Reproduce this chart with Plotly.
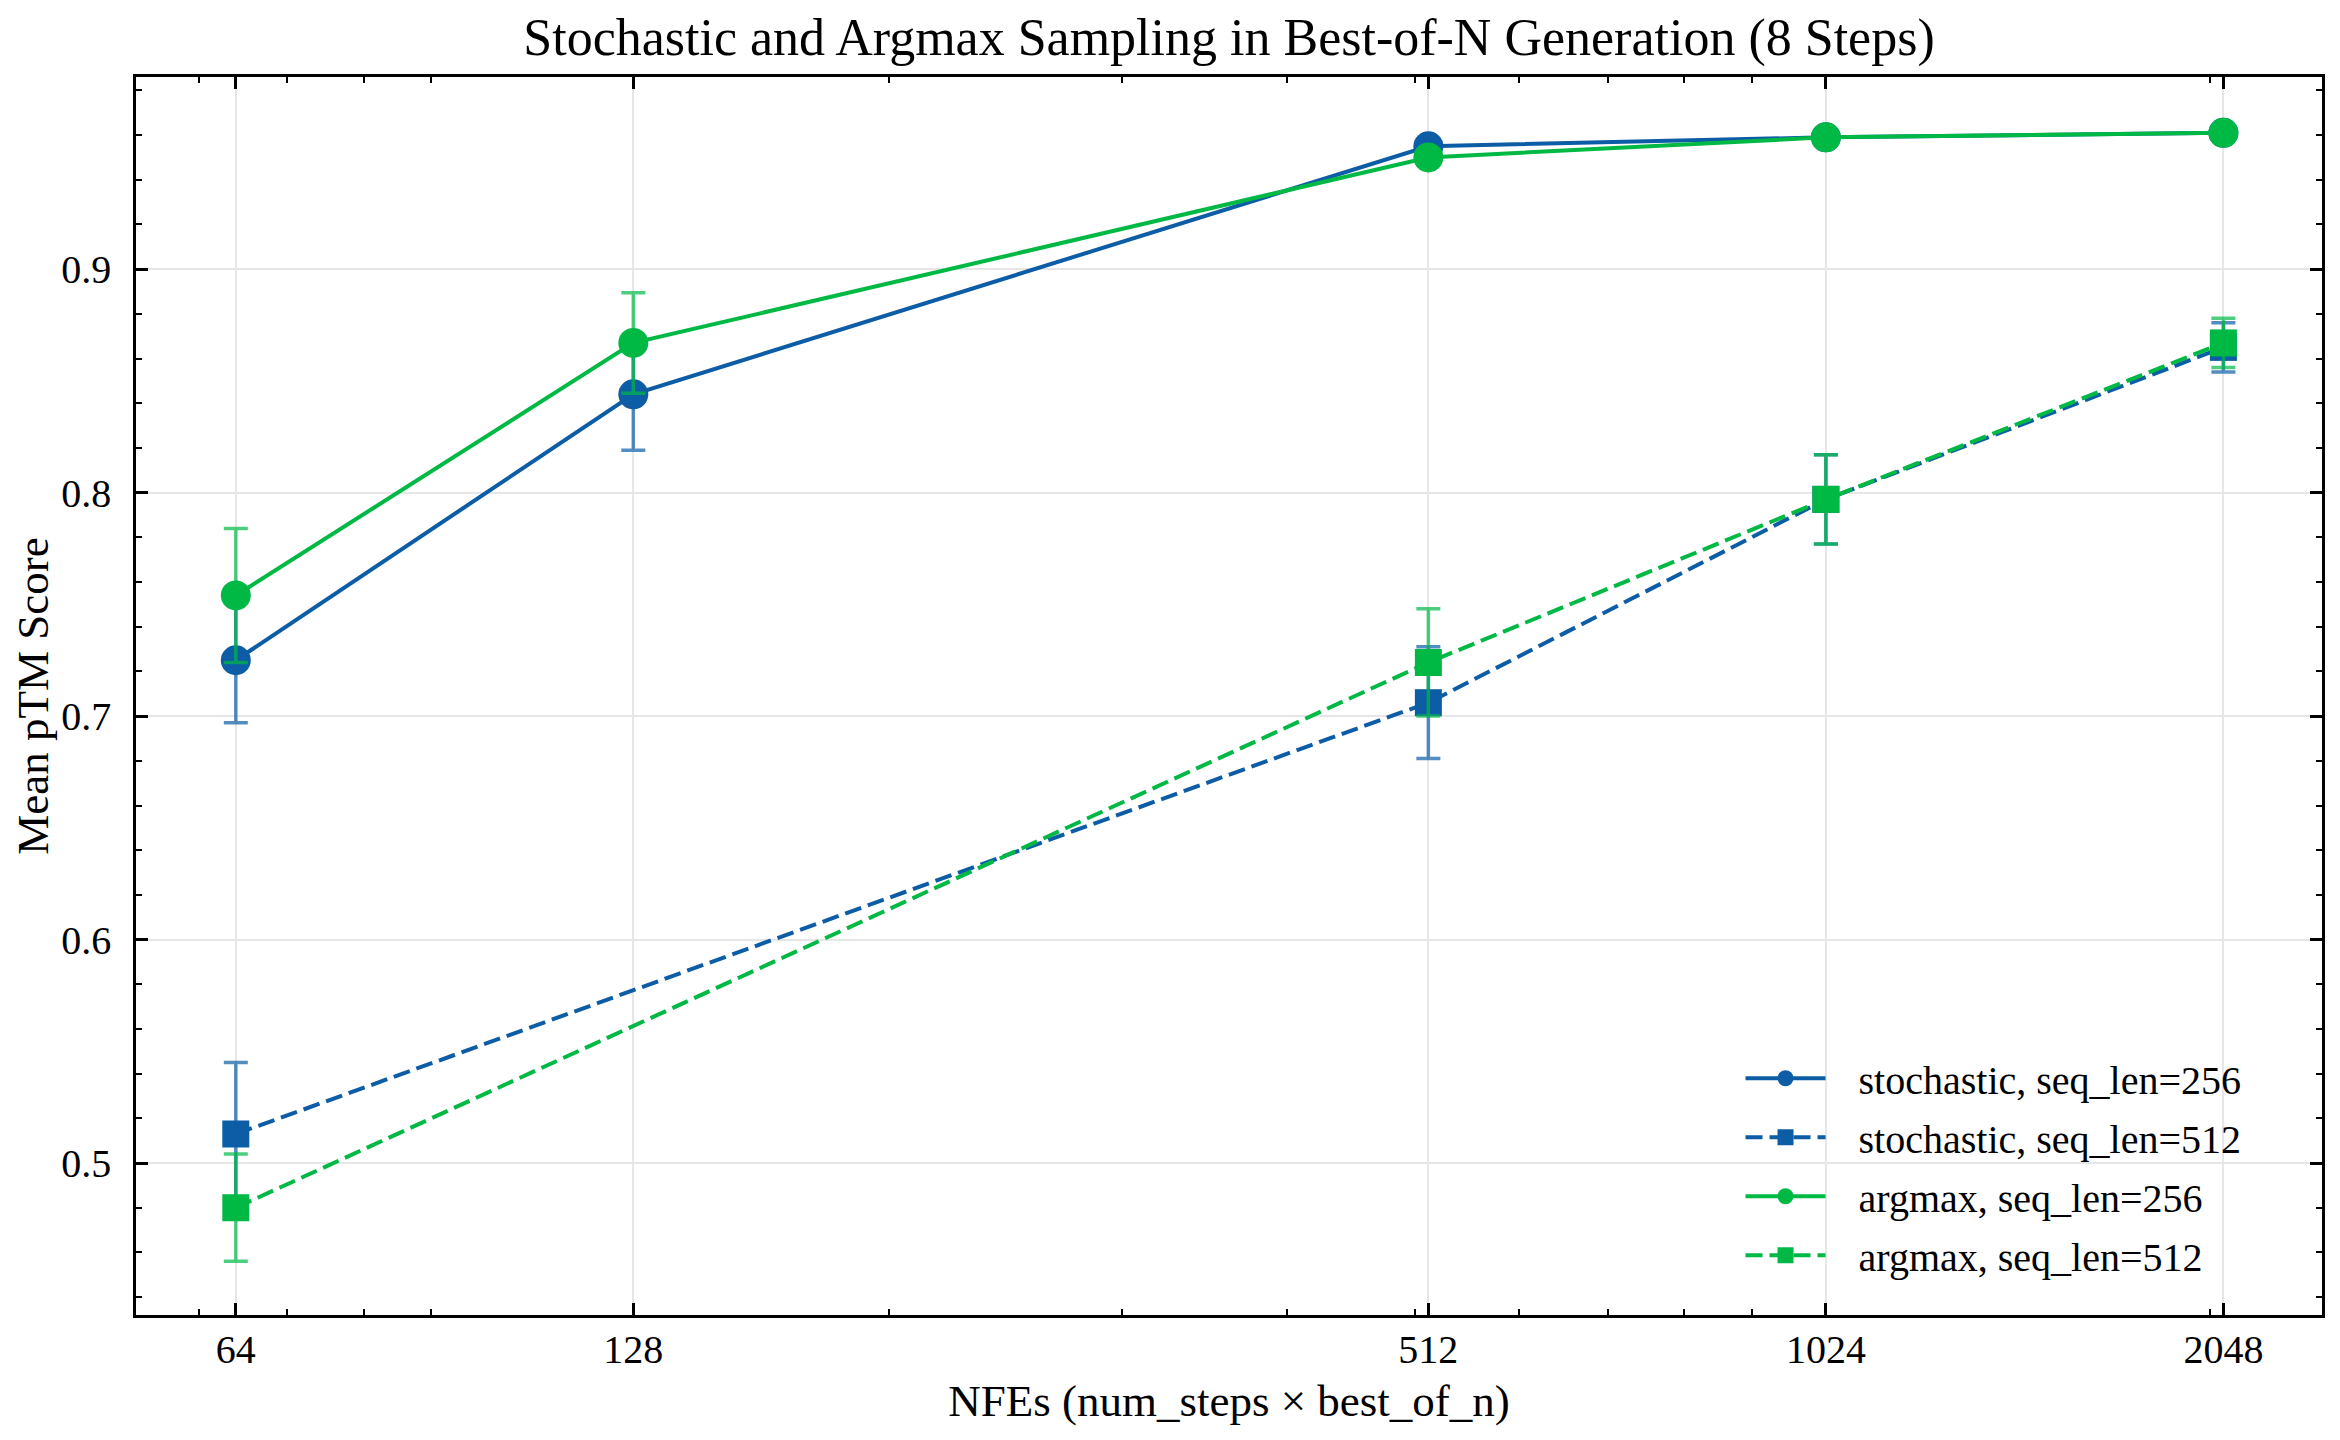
import plotly.graph_objects as go

# NFEs on x (log scale); seq_len=512 runs have no 128 point
nfe_256 = [64, 128, 512, 1024, 2048]
nfe_512 = [64, 512, 1024, 2048]

stoch_256 = [0.725, 0.844, 0.955, 0.959, 0.961]
stoch_256_err = [0.028, 0.025, 0.003, 0.002, 0.002]
stoch_512 = [0.513, 0.706, 0.797, 0.865]
stoch_512_err = [0.032, 0.025, 0.020, 0.011]

argmax_256 = [0.754, 0.867, 0.950, 0.959, 0.961]
argmax_256_err = [0.030, 0.0225, 0.003, 0.002, 0.002]
argmax_512 = [0.480, 0.724, 0.797, 0.867]
argmax_512_err = [0.024, 0.024, 0.020, 0.011]

tick_vals = [64, 128, 512, 1024, 2048]
tick_text = ["64", "128", "512", "1024", "2048"]
minor_vals = [60, 70, 80, 90, 200, 300, 400, 500, 600, 700, 800, 900, 2000]

BLUE = "#0C5DA5"
GREEN = "#00B945"
FONT = "Liberation Serif"

series = [
    ("stochastic, seq_len=256", nfe_256, stoch_256, stoch_256_err, BLUE, "solid", "circle", "rgba(12,93,165,0.7)"),
    ("stochastic, seq_len=512", nfe_512, stoch_512, stoch_512_err, BLUE, "17px,7px", "square", "rgba(12,93,165,0.7)"),
    ("argmax, seq_len=256", nfe_256, argmax_256, argmax_256_err, GREEN, "solid", "circle", "rgba(0,185,69,0.7)"),
    ("argmax, seq_len=512", nfe_512, argmax_512, argmax_512_err, GREEN, "17px,7px", "square", "rgba(0,185,69,0.7)"),
]

fig = go.Figure()
for i, (name, xs, ys, errs, color, dash, symbol, ecolor) in enumerate(series):
    fig.add_trace(go.Scatter(
        x=xs, y=ys, name="\u2002\u2009" + name, mode="lines+markers",
        legendgroup=f"g{i}",
        line=dict(color=color, width=4, dash=dash),
        marker=dict(color=color, size=30 if symbol == "circle" else 27, symbol=symbol),
        error_y=dict(type="data", array=errs, visible=True, color=ecolor, thickness=3.5, width=12),
    ))

axis_common = dict(
    showline=True, linecolor="black", linewidth=2.5, mirror="allticks",
    ticks="inside", ticklen=12, tickwidth=2.5, tickcolor="black",
    showgrid=True, gridcolor="#e6e6e6", gridwidth=2, zeroline=False,
    tickfont=dict(family=FONT, size=40, color="black"),
    automargin=False,
)

fig.update_xaxes(
    type="log", range=[1.7306, 3.386],
    tickmode="array", tickvals=tick_vals, ticktext=tick_text,
    minor=dict(tickmode="array", tickvals=minor_vals, ticks="inside", ticklen=6,
               tickwidth=2, tickcolor="black", showgrid=False),
    ticklabelstandoff=-3,
    title=dict(text="NFEs (num_steps × best_of_n)", font=dict(family=FONT, size=45, color="black"), standoff=14),
    **axis_common,
)
fig.update_yaxes(
    range=[0.432, 0.986], tick0=0, dtick=0.1, tickformat=".1f",
    minor=dict(dtick=0.02, ticks="inside", ticklen=6, tickwidth=2,
               tickcolor="black", showgrid=False),
    ticklabelstandoff=14,
    title=dict(text="Mean pTM Score", font=dict(family=FONT, size=45, color="black"), standoff=18),
    **axis_common,
)

# the page body adds an 8px offset, so the figure is 8px smaller than the window
fig.update_layout(
    width=2332, height=1432,
    margin=dict(l=128, r=18, t=69, b=125),
    plot_bgcolor="white", paper_bgcolor="white",
    title=dict(text="Stochastic and Argmax Sampling in Best-of-N Generation (8 Steps)",
               font=dict(family=FONT, size=52, color="black"),
               x=0.5, xref="paper", xanchor="center",
               y=0.98, yref="container", yanchor="middle"),
    legend=dict(x=0.734, y=0.022, xanchor="left", yanchor="bottom",
                bgcolor="rgba(0,0,0,0)", borderwidth=0,
                font=dict(family=FONT, size=40, color="black"),
                itemwidth=80, tracegroupgap=4),
    showlegend=True,
)

fig.write_html("out.html")
